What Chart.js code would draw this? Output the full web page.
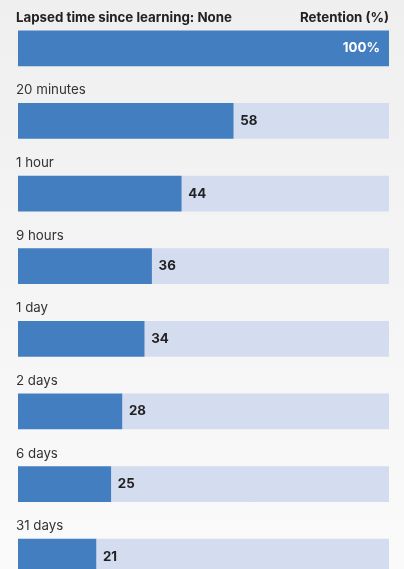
<!DOCTYPE html>
<html>
<head>
<meta charset="utf-8">
<script src="https://cdn.jsdelivr.net/npm/chart.js@4"></script>
<style>
  html, body { margin: 0; padding: 0; overflow: hidden; }
  body {
    width: 404px; height: 569px;
    background: linear-gradient(to bottom, #efefef, #fafafa);
    font-family: Inter, sans-serif;
  }
  #wrap { position: relative; width: 404px; height: 593px; }
</style>
</head>
<body>
<div id="wrap"><canvas id="retentionChart" width="404" height="593"></canvas></div>
<script>
// Dữ liệu: thời gian trôi qua và tỷ lệ ghi nhớ
const lapsedLabels = ['None', '20 minutes', '1 hour', '9 hours', '1 day', '2 days', '6 days', '31 days'];
const retention = [100, 58, 44, 36, 34, 28, 25, 21];
const remainder = retention.map(v => 100 - v);

const BLUE = '#427ec0';
const LIGHT = '#d4dcef';

// Vẽ nhãn phía trên mỗi thanh và giá trị
const labelPlugin = {
    id: 'barLabels',
    afterDatasetsDraw(chart) {
        const ctx = chart.ctx;
        const area = chart.chartArea;
        const bars = chart.getDatasetMeta(0).data;
        ctx.save();
        ctx.textBaseline = 'middle';
        bars.forEach((bar, i) => {
            const top = bar.y - bar.height / 2;
            const ly = top - 13;
            if (i === 0) {
                ctx.font = 'bold 13.3px Inter, sans-serif';
                ctx.fillStyle = '#222';
                ctx.textAlign = 'left';
                ctx.fillText('Lapsed time since learning: ' + lapsedLabels[i], area.left - 2, ly);
                ctx.textAlign = 'right';
                ctx.fillText('Retention (%)', area.right, ly);
                ctx.fillStyle = '#fff';
                ctx.fillText(retention[i] + '%', area.right - 9, bar.y);
            } else {
                ctx.font = '13.3px Inter, sans-serif';
                ctx.fillStyle = '#333';
                ctx.textAlign = 'left';
                ctx.fillText(lapsedLabels[i], area.left - 2, ly);
                ctx.font = 'bold 13.3px Inter, sans-serif';
                ctx.fillStyle = '#222';
                ctx.fillText(String(retention[i]), bar.x + 7, bar.y);
            }
        });
        ctx.restore();
    }
};

const ctx = document.getElementById('retentionChart').getContext('2d');
const chart = new Chart(ctx, {
    type: 'bar',
    data: {
        labels: lapsedLabels,
        datasets: [
            { data: retention, backgroundColor: BLUE, barThickness: 35 },
            { data: remainder, backgroundColor: LIGHT, barThickness: 35 }
        ]
    },
    options: {
        indexAxis: 'y',
        responsive: false,
        animation: false,
        devicePixelRatio: 1,
        layout: { padding: { left: 18, right: 15, top: 12, bottom: 0 } },
        scales: {
            x: { stacked: true, min: 0, max: 100, display: false },
            y: { stacked: true, display: false }
        },
        plugins: {
            legend: { display: false },
            tooltip: { enabled: false }
        }
    },
    plugins: [labelPlugin]
});
</script>
</body>
</html>
